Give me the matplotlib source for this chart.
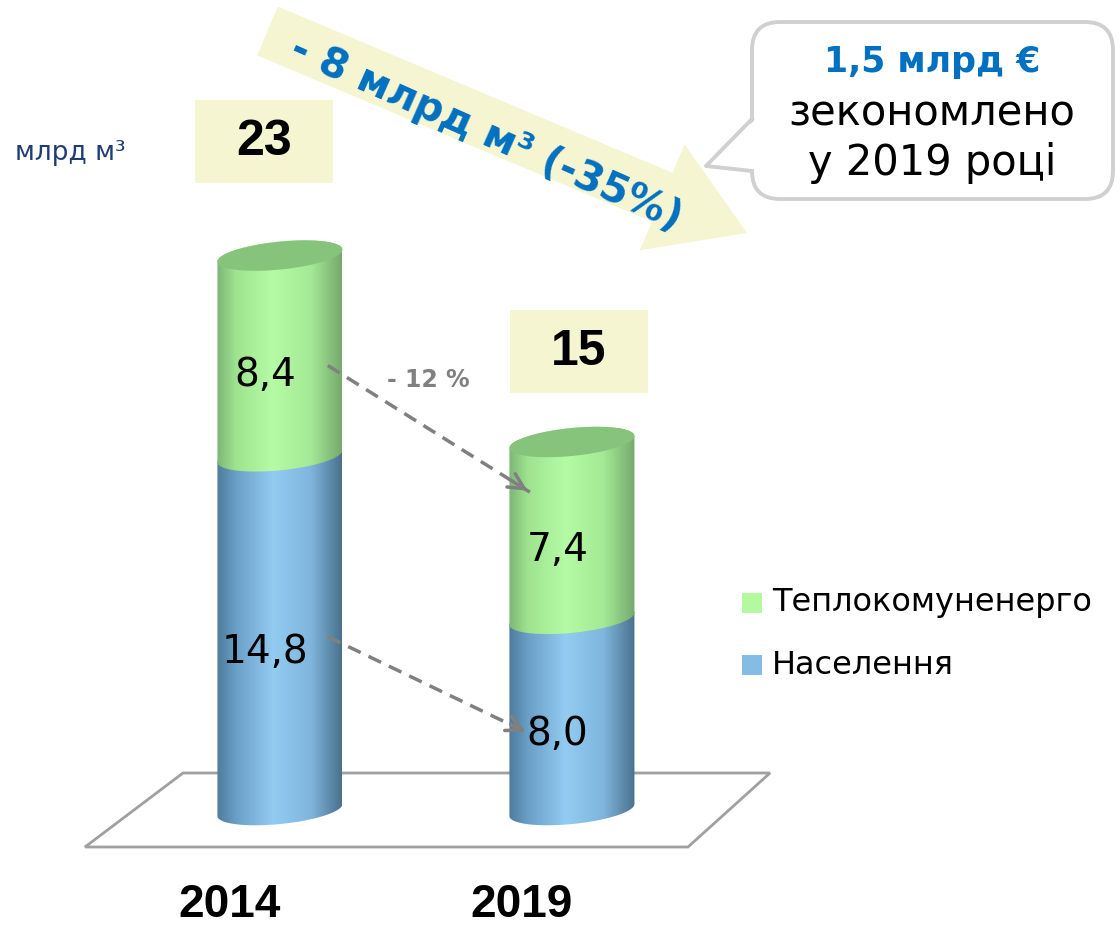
import numpy as np
import matplotlib
matplotlib.use("Agg")
import matplotlib.pyplot as plt
from matplotlib.patches import Polygon, Rectangle, FancyBboxPatch, FancyArrow
from matplotlib.colors import LinearSegmentedColormap

# data
years = ["2014", "2019"]
naselennia = [14.8, 8.0]          # Населення (bottom segment)
teplo = [8.4, 7.4]                # Теплокомуненерго (top segment)
series_names = ["Теплокомуненерго", "Населення"]
unit_label = "млрд м³"
segment_change = "- 12 %"
total_change = "- 8 млрд м³ (-35%)"
savings_lines = ["1,5 млрд €", "зекономлено", "у 2019 році"]

BLUE_TXT = "#0070c0"
BOX_YELLOW = "#f5f5d2"
GREY = "#808080"

W, H = 1120, 925
fig = plt.figure(figsize=(W / 100, H / 100), dpi=100)

# background axes in pixel coordinates for the decorations
bg = fig.add_axes([0, 0, 1, 1])
bg.set_xlim(0, W)
bg.set_ylim(H, 0)
bg.axis("off")

# data axes for the cylinders (value 0 sits at pixel row 810)
Y0, Y1 = -2.0, 30.0
ax = fig.add_axes([0.1196, 0.0726, 0.5214, 0.8268], zorder=2)
ax.axis("off")
ax.patch.set_alpha(0)

PX_X = 0.5214 * W / 2.0
PX_Y = 0.8268 * H / (Y1 - Y0)
HALF_W = 62.5 / PX_X     # cylinder half width (data units)
RIM_B = 14.0             # ellipse half height (px)
SHEAR = 12.0 / 125.0     # rim tilt


def rim(xc, v, t):
    dx = HALF_W * np.cos(t)
    dy_px = RIM_B * np.sin(t) + SHEAR * dx * PX_X
    return xc + dx, v + dy_px / PX_Y


def cmap_of(stops):
    return LinearSegmentedColormap.from_list("c", stops)


blue_cmap = cmap_of([(0, "#4d7b9c"), (0.15, "#6a9fc6"), (0.45, "#93cbf1"),
                     (0.75, "#80b6dd"), (1, "#4a718d")])
green_cmap = cmap_of([(0, "#7db676"), (0.15, "#9fe38f"), (0.45, "#b5fba5"),
                      (0.75, "#a4ea96"), (1, "#76a96e")])
CAP_GREEN = "#86c47c"

grad = np.linspace(0, 1, 256).reshape(1, -1)
front = np.linspace(np.pi, 2 * np.pi, 80)
back = np.linspace(0, np.pi, 80)
full = np.linspace(0, 2 * np.pi, 160)

for i, year in enumerate(years):
    xc = float(i)
    segs = [(0.0, naselennia[i], blue_cmap),
            (naselennia[i], naselennia[i] + teplo[i], green_cmap)]
    for k, (v0, v1, cm) in enumerate(segs):
        x0, y0 = rim(xc, v0, front)
        x1, y1 = rim(xc, v1, back)
        pts = np.column_stack([np.r_[x0, x1], np.r_[y0, y1]])
        poly = Polygon(pts, closed=True, facecolor="none", edgecolor="none",
                       zorder=3 + k)
        ax.add_patch(poly)
        im = ax.imshow(grad, cmap=cm, aspect="auto", origin="lower",
                       extent=[xc - HALF_W, xc + HALF_W, v0 - 2, v1 + 2],
                       zorder=3 + k, interpolation="bilinear")
        im.set_clip_path(poly)
    top = naselennia[i] + teplo[i]
    cx, cy = rim(xc, top, full)
    ax.add_patch(Polygon(np.column_stack([cx, cy]), closed=True,
                         facecolor=CAP_GREEN, edgecolor="none", zorder=6))

    # value labels
    for v0, v in [(0.0, naselennia[i]), (naselennia[i], teplo[i])]:
        ax.text(xc - 0.05, v0 + v / 2 - 0.8, f"{v:.1f}".replace(".", ","),
                ha="center", va="center", fontsize=28, color="black", zorder=8)

ax.set_xlim(-0.5, 1.5)
ax.set_ylim(Y0, Y1)

# dashed change arrows between the segments
for (xs, ys), (xe, ye) in [((0.164, 18.6), (0.856, 13.3)),
                           ((0.164, 7.25), (0.85, 3.22))]:
    ax.plot([xs, xe], [ys, ye], color=GREY, lw=2.5, ls=(0, (4, 2.5)), zorder=9)
    ax.annotate("", xy=(xe, ye), xytext=(xs + (xe - xs) * 0.9, ys + (ye - ys) * 0.9),
                arrowprops=dict(arrowstyle="->", color=GREY, lw=2.5,
                                mutation_scale=28), zorder=9)
ax.text(0.507, 18.0, segment_change, ha="center", va="center", fontsize=17,
        fontweight="bold", color=GREY, zorder=9)

# floor
bg.add_patch(Polygon([(183, 773), (770, 773), (688, 847), (85, 847)],
                     closed=True, facecolor="white", edgecolor="#a0a0a0", lw=2))

# year labels
for year, x in zip(years, [230, 522]):
    bg.text(x, 905, year, ha="center", va="center", fontsize=33,
            fontweight="bold", family=["Liberation Sans Narrow", "Liberation Sans"])

# totals
totals = [a + b for a, b in zip(naselennia, teplo)]
for tot, (bx, by) in zip(totals, [(195, 100), (510, 310)]):
    bg.add_patch(Rectangle((bx, by), 138, 83, facecolor=BOX_YELLOW, edgecolor="none"))
    bg.text(bx + 69, by + 42, f"{tot:.0f}", ha="center", va="center",
            fontsize=36, fontweight="bold", family="Liberation Sans")

bg.text(15, 153, unit_label, ha="left", va="center", fontsize=19, color="#1f3c78")

# big diagonal arrow
bg.add_patch(FancyArrow(267.5, 31, 747 - 267.5, 233 - 31, width=53,
                        head_width=115, head_length=92,
                        length_includes_head=True, facecolor=BOX_YELLOW,
                        edgecolor="none"))
bg.text(486, 134, total_change, ha="center", va="center", rotation=-24,
        rotation_mode="anchor", fontsize=29, fontweight="bold", color=BLUE_TXT)

# callout
bg.add_patch(FancyBboxPatch((752, 22), 361, 177,
                            boxstyle="round,pad=0,rounding_size=28",
                            facecolor="white", edgecolor="#d0d0d0", lw=2.8))
bg.add_patch(Polygon([(706, 166), (756, 119), (756, 171)], closed=True,
                     facecolor="white", edgecolor="none", zorder=3))
bg.plot([752, 706, 752], [119, 166, 171], color="#d0d0d0", lw=2.8, zorder=4)
bg.text(932, 62, savings_lines[0], ha="center", va="center", fontsize=25,
        fontweight="bold", color=BLUE_TXT)
bg.text(932, 113, savings_lines[1], ha="center", va="center", fontsize=30)
bg.text(932, 163, savings_lines[2], ha="center", va="center", fontsize=30)

# legend
for name, col, y in zip(series_names, ["#b3f99f", "#85bce3"], [603, 665]):
    bg.add_patch(Rectangle((742, y - 10), 20, 20, facecolor=col, edgecolor="none"))
    bg.text(772, y, name, ha="left", va="center", fontsize=23)

fig.savefig("out.png", dpi=100)
